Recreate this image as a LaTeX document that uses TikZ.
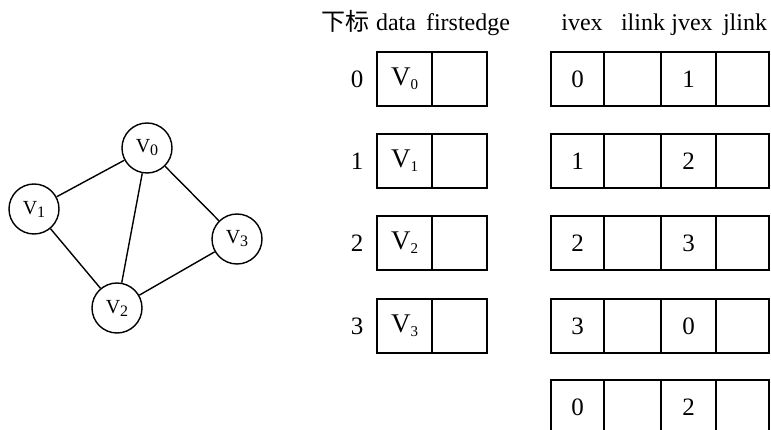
\documentclass[tikz,border=0pt]{standalone}
\usepackage{fontspec}
\setmainfont{Liberation Serif}
\newfontfamily\cjk{Noto Sans CJK SC}
% #1 main size, #2 subscript size, #3 drop, #4 index
\newcommand\vlab[4]{{\fontsize{#1}{#1}\selectfont V}\raisebox{-#3}{\fontsize{#2}{#2}\selectfont #4}}
\begin{document}
\begin{tikzpicture}[x=1pt,y=-1pt,
  cell/.style={draw, line width=1.5pt, minimum width=#1, minimum height=54pt, inner sep=0pt, font=\fontsize{25}{25}\selectfont},
  idx/.style={inner sep=0pt, font=\fontsize{25}{25}\selectfont},
  hdr/.style={inner sep=0pt, anchor=base, font=\fontsize{24}{24}\selectfont},
  vert/.style={draw, circle, line width=1.4pt, minimum size=50pt, inner sep=0pt},
  edgeline/.style={line width=1.4pt}]
\useasboundingbox (0,0) rectangle (771,430);
\clip (0,0) rectangle (771,430);
% graph
\node[vert] (g0) at (147,148) {\vlab{20}{16}{3pt}{0}};
\node[vert] (g1) at (34,209) {\vlab{20}{16}{3pt}{1}};
\node[vert] (g2) at (117,308) {\vlab{20}{16}{3pt}{2}};
\node[vert] (g3) at (237,239) {\vlab{20}{16}{3pt}{3}};
\draw[edgeline] (g0) -- (g1);
\draw[edgeline] (g0) -- (g2);
\draw[edgeline] (g0) -- (g3);
\draw[edgeline] (g1) -- (g2);
\draw[edgeline] (g2) -- (g3);
% headers
\node[hdr] (h0) at (345,31) {\cjk 下标};
\node[hdr] (h1) at (396,31) {data};
\node[hdr] (h2) at (468,31) {firstedge};
\node[hdr] (h3) at (582,31) {ivex};
\node[hdr] (h4) at (643,31) {ilink};
\node[hdr] (h5) at (692,31) {jvex};
\node[hdr] (h6) at (745,31) {jlink};
% vertex table
\foreach \r/\y in {0/79,1/161,2/243,3/326} {
  \node[idx] (i\r) at (357,\y) {\r};
  \node[cell=55pt] (d\r) at (404.5,\y) {\vlab{27}{15}{4pt}{\r}};
  \node[cell=55pt] (f\r) at (459.5,\y) {};
}
% edge table
\foreach \k/\y/\a/\b in {0/79/0/1,1/161/1/2,2/243/2/3,3/326/3/0,4/407/0/2} {
  \node[cell=53pt] (ea\k) at (577.5,\y) {\a};
  \node[cell=57pt] (eb\k) at (632.5,\y) {};
  \node[cell=55pt] (ec\k) at (688.5,\y) {\b};
  \node[cell=53pt] (ed\k) at (742.5,\y) {};
}
\end{tikzpicture}
\end{document}
